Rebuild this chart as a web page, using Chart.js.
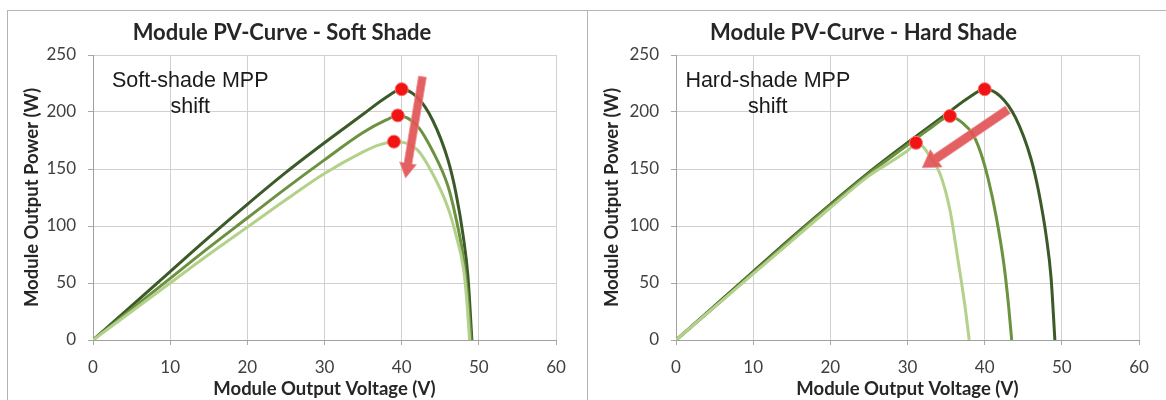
<!DOCTYPE html>
<html>
<head>
<meta charset="utf-8">
<script src="https://cdn.jsdelivr.net/npm/chart.js@4.4.1/dist/chart.umd.min.js"></script>
<style>
  body{margin:0;background:#fff;width:1166px;height:400px;overflow:hidden;position:relative;}
  .frame{position:absolute;left:7px;top:10px;width:1200px;height:420px;border:1px solid #b4b4b4;}
  .sep{position:absolute;left:587px;top:10px;width:1px;height:390px;background:#b4b4b4;}
  .box{position:absolute;top:11px;height:389px;width:578px;}
</style>
</head>
<body>
<div class="frame"></div>
<div class="sep"></div>
<div class="box" style="left:8px"><canvas id="soft"></canvas></div>
<div class="box" style="left:588px"><canvas id="hard"></canvas></div>
<script>
// axis ticks
const xTicks=[0,10,20,30,40,50,60];
const yTicks=[0,50,100,150,200,250];

// soft shade curves (V, W)
const softV1=[0,5,10,15,20,25,30,35,38,40,42,44,46,47,48,48.6,49.1];
const softP1=[0,30,60,90,119,147,173,198,213,220,213,193,158,130,90,55,0];
const softV2=[0,5,10,15,20,25,30,35,38,39.5,42,44,46,47,48,48.5,49.0];
const softP2=[0,27,54,81,107,133,158,182,193,197,188,166,135,108,72,42,0];
const softV3=[0,5,10,15,20,25,30,35,37,39,42,44,46,47,48,48.4,48.8];
const softP3=[0,25,50,75,99,123,146,165,171,174,167,146,116,93,63,38,0];
const softMppV=[40,39.5,39];
const softMppP=[220,197,174];
const softArrowV=[42.7,40.5];
const softArrowP=[231,142];
const softLabel=['Soft-shade MPP','shift'];

// hard shade curves
const hardV1=[0,5,10,15,20,25,30,35,38,40,42,44,46,47,48,48.6,49.1];
const hardP1=[0,30,60,90,119,147,173,198,213,220,214,195,159,130,90,55,0];
const hardV2=[0,5,10,15,20,25,30,33,35.5,37.2,38.5,39.5,40.5,41.5,42.5,43.1,43.5];
const hardP2=[0,29,59,89,118,146,171,186,196,190,180,164,140,108,66,30,0];
const hardV3=[0,5,10,15,20,25,28,30,31.3,32.2,32.9,34.2,35.5,36.5,37.4,38];
const hardP3=[0,29,58,87,116,144,157,166,173,168,161,146,114,72,32,0];
const hardMppV=[40,35.5,31.1];
const hardMppP=[220,196.5,173];
const hardArrowV=[43,31.9];
const hardArrowP=[202,151];
const hardLabel=['Hard-shade MPP','shift'];

const colors=['#3b5a28','#6c9240','#b3d18a'];

function pts(v,p){ return v.map((x,i)=>({x:x,y:p[i]})); }

const overlay={
  id:'overlay',
  afterDatasetsDraw(chart,args,o){
    const ctx=chart.ctx, xs=chart.scales.x, ys=chart.scales.y;
    const x1=xs.getPixelForValue(o.av[0]), y1=ys.getPixelForValue(o.ap[0]);
    const x2=xs.getPixelForValue(o.av[1]), y2=ys.getPixelForValue(o.ap[1]);
    const len=Math.hypot(x2-x1,y2-y1), dx=(x2-x1)/len, dy=(y2-y1)/len, nx=-dy, ny=dx;
    const bx=x2-dx*o.hl, by=y2-dy*o.hl;
    ctx.save();
    ctx.beginPath();
    ctx.moveTo(x1+nx*o.w/2,y1+ny*o.w/2);
    ctx.lineTo(bx+nx*o.w/2,by+ny*o.w/2);
    ctx.lineTo(bx+nx*o.hw/2,by+ny*o.hw/2);
    ctx.lineTo(x2,y2);
    ctx.lineTo(bx-nx*o.hw/2,by-ny*o.hw/2);
    ctx.lineTo(bx-nx*o.w/2,by-ny*o.w/2);
    ctx.lineTo(x1-nx*o.w/2,y1-ny*o.w/2);
    ctx.closePath();
    ctx.fillStyle='rgba(226,84,86,0.92)';
    ctx.fill();
    ctx.strokeStyle='rgba(240,150,150,0.8)';
    ctx.lineWidth=1;
    ctx.stroke();
    // annotation text
    ctx.fillStyle='#1a1a1a';
    ctx.font='21.5px "Liberation Sans", Arial, sans-serif';
    ctx.textAlign='center';
    ctx.textBaseline='middle';
    const tx=xs.getPixelForValue(o.tv);
    ctx.fillText(o.text[0],tx,ys.getPixelForValue(o.tp[0]));
    ctx.fillText(o.text[1],tx,ys.getPixelForValue(o.tp[1]));
    ctx.restore();
  }
};

function makeChart(id,title,curves,mppV,mppP,arrowV,arrowP,label,yw,rpad,arrowW){
  const ds=[{
    type:'scatter',data:pts(mppV,mppP),pointRadius:6.5,
    backgroundColor:'#f01414',borderColor:'#ff7070',borderWidth:1,order:0
  }];
  curves.forEach((c,i)=>ds.push({
    type:'line',data:pts(c[0],c[1]),borderColor:colors[i],borderWidth:3,
    pointRadius:0,cubicInterpolationMode:'monotone',fill:false,order:3-i
  }));
  return new Chart(document.getElementById(id),{
    data:{datasets:ds},
    plugins:[overlay],
    options:{
      responsive:true,maintainAspectRatio:false,animation:false,
      layout:{padding:{left:0,right:rpad,top:0,bottom:0}},
      plugins:{
        legend:{display:false},tooltip:{enabled:false},
        title:{display:true,text:title,color:'#262626',
          font:{family:'Lato',size:22,weight:'bold'},padding:{top:9,bottom:8.6}},
        overlay:{av:arrowV,ap:arrowP,w:arrowW[0],hw:arrowW[1],hl:arrowW[2],
          text:label,tv:id==='soft'?12.6:11.9,tp:[227,204]}
      },
      scales:{
        x:{type:'linear',min:xTicks[0],max:xTicks[xTicks.length-1],
          afterBuildTicks(s){ s.ticks=xTicks.map(v=>({value:v})); },
          afterFit(s){ s.height=60; },
          grid:{color:'#d0d0d0',tickColor:'#a8a8a8',tickLength:5},
          border:{color:'#a0a0a0'},
          ticks:{color:'#404040',font:{family:'Lato',size:17},padding:12,maxRotation:0},
          title:{display:true,text:'Module Output Voltage (V)',color:'#262626',
            font:{family:'Lato',size:18.5,weight:'bold'},padding:{top:0,bottom:0}}},
        y:{type:'linear',min:yTicks[0],max:yTicks[yTicks.length-1],
          afterBuildTicks(s){ s.ticks=yTicks.map(v=>({value:v})); },
          afterFit(s){ s.width=yw; },
          grid:{color:'#d0d0d0',tickColor:'#a8a8a8',tickLength:5},
          border:{color:'#a0a0a0'},
          ticks:{color:'#404040',font:{family:'Lato',size:17},padding:12},
          title:{display:true,text:'Module Output Power (W)',color:'#262626',
            font:{family:'Lato',size:18.5,weight:'bold'},padding:{top:13,bottom:0}}}
      }
    }
  });
}

makeChart('soft','Module PV-Curve - Soft Shade',
  [[softV1,softP1],[softV2,softP2],[softV3,softP3]],
  softMppV,softMppP,softArrowV,softArrowP,softLabel,85,30,[8,17,15]);
makeChart('hard','Module PV-Curve - Hard Shade',
  [[hardV1,hardP1],[hardV2,hardP2],[hardV3,hardP3]],
  hardMppV,hardMppP,hardArrowV,hardArrowP,hardLabel,88,27,[9,21,17]);
</script>
</body>
</html>
